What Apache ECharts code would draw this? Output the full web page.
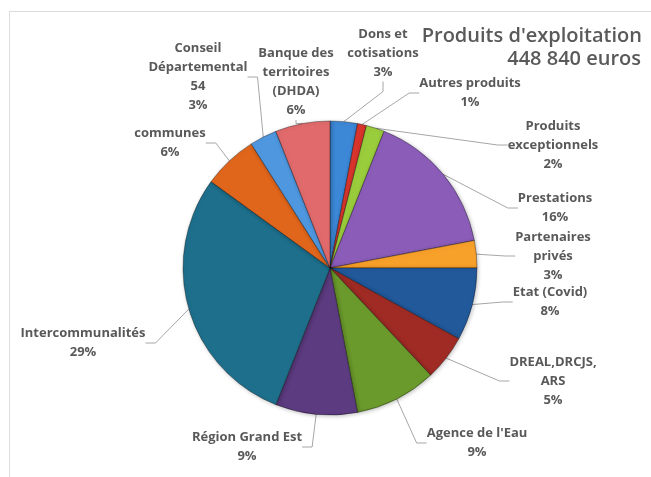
<!DOCTYPE html>
<html>
<head>
<meta charset="utf-8">
<script src="https://cdn.jsdelivr.net/npm/echarts@6/dist/echarts.min.js"></script>
<style>
html,body{margin:0;padding:0;background:#fff;}
#c{width:651px;height:477px;}
</style>
</head>
<body>
<div id="c"></div>
<script>
const categories = [
  "Dons et\ncotisations",
  "Autres produits",
  "Produits\nexceptionnels",
  "Prestations",
  "Partenaires\nprivés",
  "Etat (Covid)",
  "DREAL,DRCJS,\nARS",
  "Agence de l'Eau",
  "Région Grand Est",
  "Intercommunalités",
  "communes",
  "Conseil\nDépartemental\n54",
  "Banque des\nterritoires\n(DHDA)"
];
const values = [3, 1, 2, 16, 3, 8, 5, 9, 9, 29, 6, 3, 6];
const titleText = "Produits d'exploitation";
const subText = "448 840 euros";

const colors = ['#3c87d6','#d9352d','#9acd3c','#8b5db9','#f7a02a','#22599b','#a02b25',
                '#6b9a2c','#5d3b80','#1e6f8c','#e0661c','#4f98e0','#e06a6c'];
const labelPos = [[383,53],[470,93],[553,145],[555,208],[553,256],[550,302],[553,381],
                  [477,443],[247,447],[83,343],[170,143],[198,77],[296,82]];

const titleStyle = {fontFamily: 'Open Sans', fontWeight: 600, fontSize: 20, color: '#595959'};

const chart = echarts.init(document.getElementById('c'));
chart.setOption({
  animation: false,
  color: colors,
  title: [
    {text: titleText, right: 4, top: 21, textStyle: titleStyle},
    {text: subText, right: 5, top: 44, textStyle: titleStyle}
  ],
  graphic: [
    {type: 'line', shape: {x1: 9, y1: 11.5, x2: 651, y2: 11.5}, style: {stroke: '#dcdcdc', lineWidth: 1}},
    {type: 'line', shape: {x1: 9.5, y1: 11, x2: 9.5, y2: 477}, style: {stroke: '#dcdcdc', lineWidth: 1}}
  ],
  series: [{
    type: 'pie',
    center: [330, 268],
    radius: 147,
    startAngle: 90,
    clockwise: true,
    percentPrecision: 0,
    itemStyle: {
      borderColor: 'rgba(0,0,0,0.35)', borderWidth: 1,
      shadowBlur: 4, shadowColor: 'rgba(0,0,0,0.25)', shadowOffsetX: 1, shadowOffsetY: 1
    },
    label: {
      formatter: '{b}\n{d}%',
      fontFamily: 'Open Sans', fontWeight: 'bold', fontSize: 13,
      lineHeight: 19, color: '#595959', align: 'center'
    },
    labelLine: {
      show: true, length: 10, length2: 10,
      lineStyle: {color: '#a6a6a6', width: 1}
    },
    labelLayout: function (p) {
      const pos = labelPos[p.dataIndex];
      return {x: pos[0], y: pos[1], align: 'center', verticalAlign: 'middle'};
    },
    data: categories.map((n, i) => ({name: n, value: values[i]}))
  }]
});
</script>
</body>
</html>
